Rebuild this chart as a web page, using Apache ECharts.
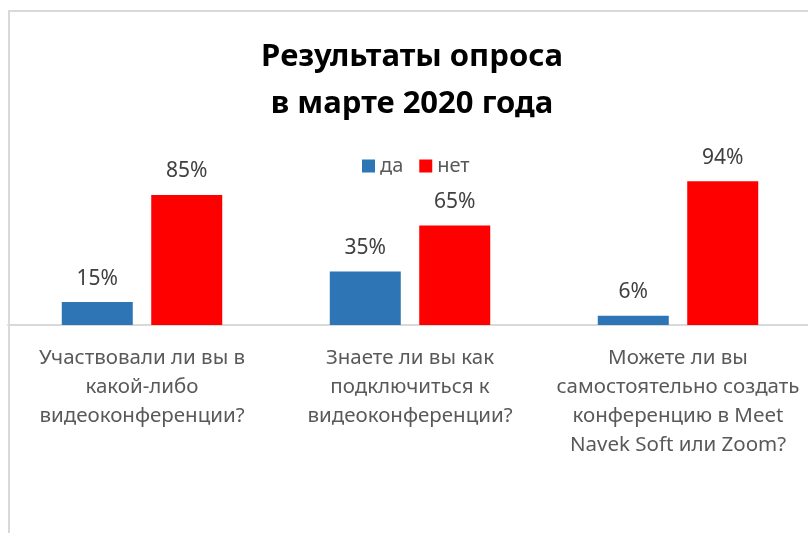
<!DOCTYPE html>
<html>
<head>
<meta charset="utf-8">
<script src="https://cdn.jsdelivr.net/npm/echarts@6/dist/echarts.min.js"></script>
<style>
  html, body { margin: 0; padding: 0; background: #fff; overflow: hidden; }
  #chart { width: 816px; height: 533px; }
</style>
</head>
<body>
<div id="chart"></div>
<script>
// Survey questions (category axis)
const categories = [
  'Участвовали ли вы в\nкакой-либо\nвидеоконференции?',
  'Знаете ли вы как\nподключиться к\nвидеоконференции?',
  'Можете ли вы\nсамостоятельно создать\nконференцию в Meet\nNavek Soft или Zoom?'
];
// Answer shares, percent
const yesValues = [15, 35, 6];
const noValues = [85, 65, 94];
const seriesNames = ['да', 'нет'];

const FONT = '"Noto Sans", sans-serif';

const chart = echarts.init(document.getElementById('chart'));

const valueLabel = {
  show: true,
  position: 'top',
  distance: 13,
  formatter: '{c}%',
  fontFamily: FONT,
  fontSize: 21,
  color: '#404040'
};

chart.setOption({
  animation: false,
  backgroundColor: '#fff',
  title: {
    text: 'Результаты опроса\nв марте 2020 года',
    left: 407,
    top: 29,
    textAlign: 'center',
    textStyle: {
      fontFamily: FONT,
      fontSize: 31,
      fontWeight: 'bold',
      color: '#000',
      lineHeight: 47
    }
  },
  legend: {
    data: seriesNames,
    left: 357,
    top: 151,
    itemWidth: 13,
    itemHeight: 13,
    itemGap: 16,
    icon: 'rect',
    textStyle: { fontFamily: FONT, fontSize: 20, color: '#595959' }
  },
  grid: { left: 8, right: 4, top: 172, bottom: 208, containLabel: false },
  xAxis: {
    type: 'category',
    data: categories,
    axisLine: { lineStyle: { color: '#d9d9d9', width: 2 } },
    axisTick: { show: false },
    axisLabel: {
      interval: 0,
      margin: 19,
      fontFamily: FONT,
      fontSize: 20.5,
      lineHeight: 29,
      color: '#595959',
      align: 'center'
    }
  },
  yAxis: {
    type: 'value',
    min: 0,
    max: 100,
    show: false,
    splitLine: { show: false }
  },
  series: [
    {
      name: seriesNames[0],
      type: 'bar',
      data: yesValues,
      barWidth: 71,
      barGap: '26%',
      itemStyle: { color: '#2E75B6' },
      label: valueLabel
    },
    {
      name: seriesNames[1],
      type: 'bar',
      data: noValues,
      barWidth: 71,
      itemStyle: { color: '#FF0000' },
      label: valueLabel
    }
  ],
  graphic: [
    {
      type: 'rect',
      shape: { x: 9, y: 11, width: 830, height: 560 },
      style: { fill: 'none', stroke: '#d9d9d9', lineWidth: 2 },
      silent: true,
      z: 100
    }
  ]
});
</script>
</body>
</html>
